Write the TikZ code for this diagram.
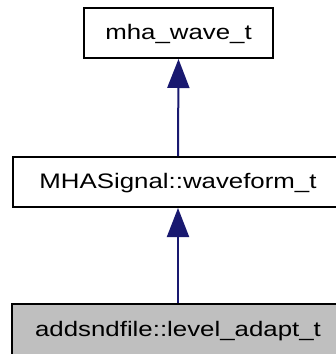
\documentclass[tikz,border=0pt]{standalone}
\usepackage{fontspec}
\setmainfont{Liberation Sans}
\definecolor{edgeblue}{RGB}{25, 25, 112}
\definecolor{classgray}{RGB}{191, 191, 191}
\usepackage{tikz}
\usetikzlibrary{arrows.meta, positioning}

\newcommand{\cname}[1]{\scalebox{1.23}[1]{#1}}

\begin{document}
\begin{tikzpicture}[x=1pt, y=-1pt,
  classbox/.style={draw=black, line width=2pt, minimum height=50pt, inner sep=0pt,
    text height=18pt, text depth=6pt, font=\fontsize{21}{25}\selectfont},
  inherit/.style={draw=edgeblue, line width=2pt, -{Triangle[length=29pt, width=22pt]}}]
  \useasboundingbox (0,0) rectangle (336,354);
  \clip (0,0) rectangle (336,354);

  % class boxes
  \node[classbox, minimum width=189pt] (wave) at (178.5, 33) {\cname{mha\_wave\_t}};
  \node[classbox, minimum width=330pt] (waveform) at (178, 182) {\cname{MHASignal::waveform\_t}};
  \node[classbox, minimum width=332pt, minimum height=52pt, fill=classgray] (adapt) at (178, 330) {\cname{addsndfile::level\_adapt\_t}};

  % inheritance
  \draw[inherit] (waveform.north) -- (wave.south);
  \draw[inherit] (adapt.north) -- (waveform.south);
\end{tikzpicture}
\end{document}
